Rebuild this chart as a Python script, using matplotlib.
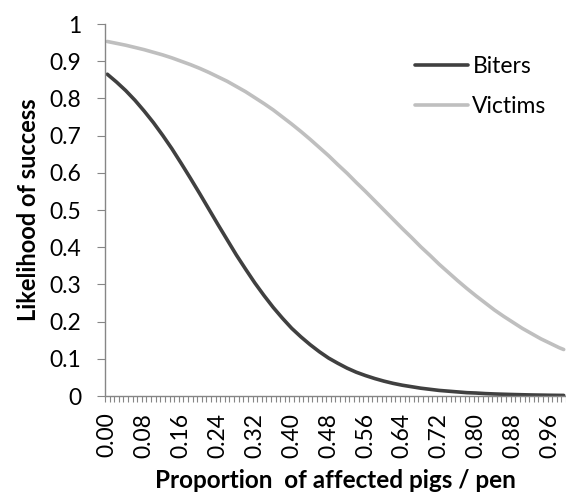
import numpy as np
import matplotlib
matplotlib.use('Agg')
import matplotlib.pyplot as plt

plt.rcParams['font.family'] = ['Lato', 'DejaVu Sans']

# proportion of affected pigs per pen (read every 0.02 off the chart)
prop = [0.00, 0.02, 0.04, 0.06, 0.08, 0.10, 0.12, 0.14, 0.16, 0.18,
        0.20, 0.22, 0.24, 0.26, 0.28, 0.30, 0.32, 0.34, 0.36, 0.38,
        0.40, 0.42, 0.44, 0.46, 0.48, 0.50, 0.52, 0.54, 0.56, 0.58,
        0.60, 0.62, 0.64, 0.66, 0.68, 0.70, 0.72, 0.74, 0.76, 0.78,
        0.80, 0.82, 0.84, 0.86, 0.88, 0.90, 0.92, 0.94, 0.96, 0.98, 0.99]
biters = [0.865, 0.844, 0.821, 0.795, 0.766, 0.735, 0.701, 0.665, 0.626, 0.586,
          0.545, 0.503, 0.461, 0.420, 0.379, 0.341, 0.304, 0.270, 0.238, 0.209,
          0.182, 0.159, 0.138, 0.119, 0.102, 0.088, 0.075, 0.064, 0.055, 0.047,
          0.040, 0.034, 0.029, 0.025, 0.021, 0.018, 0.015, 0.013, 0.011, 0.009,
          0.008, 0.0065, 0.0055, 0.0047, 0.004, 0.0034, 0.0028, 0.0024, 0.002, 0.0017, 0.0016]
victims = [0.953, 0.948, 0.943, 0.937, 0.931, 0.924, 0.917, 0.909, 0.900, 0.891,
           0.881, 0.870, 0.858, 0.846, 0.832, 0.818, 0.802, 0.786, 0.769, 0.750,
           0.731, 0.711, 0.690, 0.668, 0.646, 0.622, 0.599, 0.574, 0.550, 0.525,
           0.500, 0.475, 0.450, 0.426, 0.401, 0.378, 0.354, 0.332, 0.310, 0.289,
           0.269, 0.250, 0.231, 0.214, 0.198, 0.182, 0.168, 0.154, 0.142, 0.130, 0.125]

# category axis: 0.00 .. 0.99, label every 8th
n_cat = 100
cat_labels = ['%.2f' % (i / 100) for i in range(n_cat)]
yticks = [0, 0.1, 0.2, 0.3, 0.4, 0.5, 0.6, 0.7, 0.8, 0.9, 1]
ytick_labels = ['0', '0.1', '0.2', '0.3', '0.4', '0.5', '0.6', '0.7', '0.8', '0.9', '1']

axis_col = '#868686'

fig = plt.figure(figsize=(5.66, 4.98), dpi=100)
ax = fig.add_axes([0.1855, 0.2048, 0.8145, 0.747])

xpos = np.array(prop) * 100
ax.plot(xpos, biters, color='#404040', lw=2.6, label='Biters', solid_capstyle='round')
ax.plot(xpos, victims, color='#bfbfbf', lw=2.6, label='Victims', solid_capstyle='round')

ax.set_xlim(-0.5, n_cat - 0.5)
ax.set_ylim(0, 1)

major = list(range(0, n_cat, 8))
ax.set_xticks(major)
ax.set_xticklabels([cat_labels[i] for i in major], rotation=90, fontsize=16.5)
ax.set_xticks(np.arange(n_cat + 1) - 0.5, minor=True)
ax.tick_params(axis='x', which='major', length=0, pad=12)
ax.tick_params(axis='x', which='minor', length=4, width=0.8, color=axis_col)

ax.set_yticks(yticks)
ax.set_yticklabels(ytick_labels, fontsize=16.5)
ax.tick_params(axis='y', length=6, width=0.8, color=axis_col, pad=11)

for s in ['top', 'right']:
    ax.spines[s].set_visible(False)
for s in ['left', 'bottom']:
    ax.spines[s].set_color(axis_col)
    ax.spines[s].set_linewidth(1.0)

ax.set_xlabel('Proportion  of affected pigs / pen', fontsize=17.5, fontweight='bold', labelpad=8)
ax.set_ylabel('Likelihood of success', fontsize=17, fontweight='bold', labelpad=7)

ax.legend(loc='upper left', bbox_to_anchor=(0.697, 0.929), bbox_transform=fig.transFigure,
          frameon=False, fontsize=16.5, handlelength=2.3, handletextpad=0.2, labelspacing=0.85)

fig.savefig('out.png', dpi=100)
